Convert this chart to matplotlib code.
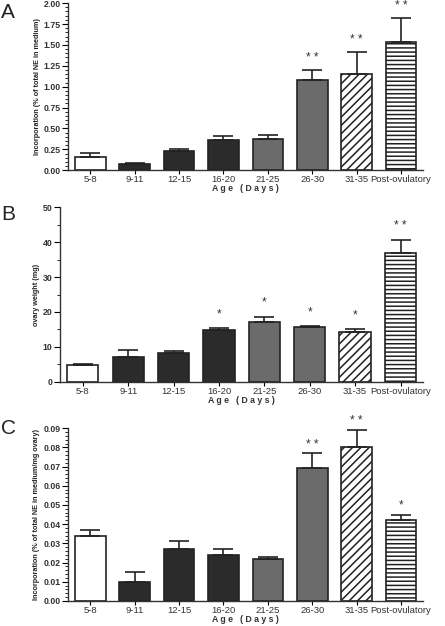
import matplotlib
matplotlib.use("Agg")
import matplotlib.pyplot as plt
from matplotlib.ticker import MultipleLocator, FormatStrFormatter

ages = ["5-8", "9-11", "12-15", "16-20", "21-25", "26-30", "31-35", "Post-ovulatory"]

# panel A: incorporation, % of total NE in medium
inc_medium = [0.16, 0.07, 0.235, 0.365, 0.38, 1.08, 1.15, 1.54]
inc_medium_err = [0.05, 0.02, 0.02, 0.04, 0.04, 0.12, 0.26, 0.28]
inc_medium_sig = ["", "", "", "", "", "* *", "* *", "* *"]

# panel B: ovary weight (mg)
ovary_wt = [4.8, 7.0, 8.4, 14.9, 17.2, 15.6, 14.3, 37.0]
ovary_wt_err = [0.4, 2.1, 0.3, 0.4, 1.5, 0.3, 0.8, 3.7]
ovary_wt_sig = ["", "", "", "*", "*", "*", "*", "* *"]

# panel C: incorporation per mg ovary
inc_ovary = [0.034, 0.010, 0.027, 0.024, 0.022, 0.069, 0.080, 0.042]
inc_ovary_err = [0.003, 0.005, 0.004, 0.003, 0.001, 0.008, 0.009, 0.003]
inc_ovary_sig = ["", "", "", "", "", "* *", "* *", "*"]

plt.rcParams["font.family"] = ["Liberation Sans", "DejaVu Sans"]
plt.rcParams["hatch.linewidth"] = 1.1

fills = ["white", "#2b2b2b", "#2b2b2b", "#2b2b2b", "#6b6b6b", "#6b6b6b", "white", "white"]
hatches = [None, None, None, None, None, None, "////", "----"]

fig = plt.figure(figsize=(4.45, 6.26), dpi=100)


def panel(rect, vals, errs, sig, ymax, major, minor, fmt, ylabel, star_off):
    ax = fig.add_axes(rect)
    x = list(range(len(vals)))
    bars = ax.bar(x, vals, width=0.69, color=fills, edgecolor="#222222", linewidth=1.2)
    for b, h in zip(bars, hatches):
        if h:
            b.set_hatch(h)
    ax.errorbar(x, vals, yerr=[[0] * len(errs), errs], fmt="none", ecolor="#222222",
                elinewidth=1.2, capsize=7, capthick=1.2)
    for xi, v, e, s in zip(x, vals, errs, sig):
        if s:
            ax.text(xi, v + e + star_off, s, ha="center", va="center", fontsize=8.5,
                    color="#333333", clip_on=False)
    ax.set_xlim(-0.5, 7.5)
    ax.set_ylim(0, ymax)
    ax.spines["top"].set_visible(False)
    ax.spines["right"].set_visible(False)
    for sp in ("left", "bottom"):
        ax.spines[sp].set_linewidth(1.0)
        ax.spines[sp].set_color("#333333")
    ax.yaxis.set_major_locator(MultipleLocator(major))
    ax.yaxis.set_minor_locator(MultipleLocator(minor))
    ax.yaxis.set_major_formatter(FormatStrFormatter(fmt))
    ax.tick_params(axis="y", which="major", length=4, width=0.8, labelsize=6.3, pad=1.5)
    ax.tick_params(axis="y", which="minor", length=2, width=0.6)
    ax.tick_params(axis="x", length=3, width=0.8, labelsize=6.8, pad=0.5)
    ax.set_xticks(x)
    ax.set_xticklabels(ages)
    for lab in ax.get_yticklabels():
        lab.set_fontweight("bold")
        lab.set_color("#333333")
    for lab in ax.get_xticklabels():
        lab.set_color("#333333")
    ax.set_xlabel("A g e   ( D a y s )", fontsize=6.3, fontweight="bold", color="#333333",
                  labelpad=0)
    ax.set_ylabel(ylabel, fontsize=5.2, fontweight="bold", color="#222222", labelpad=2)
    return ax


axA = panel([0.153, 0.728, 0.798, 0.267], inc_medium, inc_medium_err, inc_medium_sig,
            2.0, 0.25, 0.05, "%.2f", "Incorporation (% of total NE in medium)", 0.145)
axB = panel([0.135, 0.390, 0.816, 0.279], ovary_wt, ovary_wt_err, ovary_wt_sig,
            50, 10, 5, "%d", "ovary weight (mg)", 4.0)
axC = panel([0.153, 0.040, 0.798, 0.276], inc_ovary, inc_ovary_err, inc_ovary_sig,
            0.09, 0.01, 0.002, "%.2f", "Incorporation (% of total NE in medium/mg ovary)",
            0.0045)

fig.text(0.002, 0.996, "A", fontsize=15, va="top", ha="left", color="#222222")
fig.text(0.002, 0.673, "B", fontsize=15, va="top", ha="left", color="#222222")
fig.text(0.002, 0.330, "C", fontsize=15, va="top", ha="left", color="#222222")

fig.savefig("out.png", dpi=100)
